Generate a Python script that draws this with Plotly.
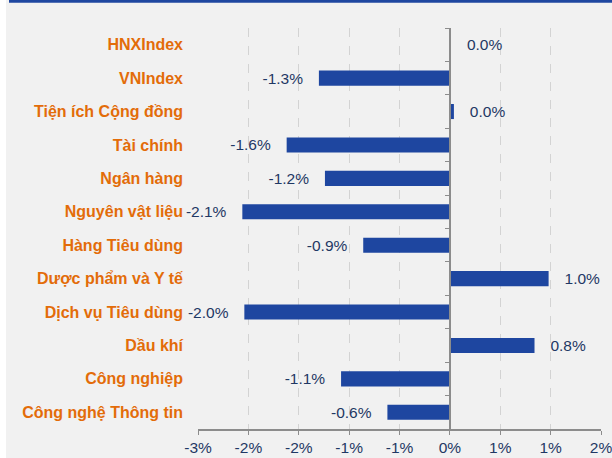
import plotly.graph_objects as go

categories = [
    "HNXIndex", "VNIndex", "Tiện ích Cộng đồng", "Tài chính", "Ngân hàng",
    "Nguyên vật liệu", "Hàng Tiêu dùng", "Dược phẩm và Y tế",
    "Dịch vụ Tiêu dùng", "Dầu khí", "Công nghiệp", "Công nghệ Thông tin",
]
values = [0.01, -1.30, 0.04, -1.62, -1.24, -2.06, -0.86, 0.98, -2.04, 0.84, -1.08, -0.62]

tick_vals = [-2.5, -2.0, -1.5, -1.0, -0.5, 0.0, 0.5, 1.0, 1.5]
tick_text = ["-3%", "-2%", "-2%", "-1%", "-1%", "0%", "1%", "1%", "2%"]

BAR = "#1E46A0"
NAVY = "#1F3864"
ORANGE = "#E36C09"
GRAY = "#8C8C8C"
FONT = "Liberation Sans, Arial, sans-serif"

pad = "\u00a0\u00a0\u00a0"
labels = [(f"{v:.1f}%" + pad) if v < 0 else (pad + f"{v:.1f}%") for v in values]

fig = go.Figure()
fig.add_trace(go.Bar(
    x=values, y=categories, orientation="h",
    marker=dict(color=BAR, line=dict(width=0)),
    text=labels, textposition="outside", cliponaxis=False,
    constraintext="none",
    textfont=dict(family=FONT, size=15.5, color=NAVY),
    hoverinfo="skip",
))

x0, x1 = tick_vals[0], tick_vals[-1]
zero_pos = (0 - x0) / (x1 - x0)
n = len(categories)
L, R, T, B = 198, 11, 28, 29
pw = 612 - L - R
ph = 458 - T - B

fig.update_layout(
    width=612, height=458,
    margin=dict(l=L, r=R, t=T, b=B, autoexpand=False),
    paper_bgcolor="#F1F1F1", plot_bgcolor="#F1F1F1",
    showlegend=False, bargap=0.55,
    font=dict(family=FONT),
    xaxis=dict(
        range=[x0, x1], tickvals=tick_vals, ticktext=tick_text,
        showgrid=True, gridcolor="#D3D3D3", griddash="dash", gridwidth=1,
        zeroline=False, showline=True, linecolor=GRAY, linewidth=1.5,
        ticks="outside", ticklen=4, tickcolor=GRAY,
        tickfont=dict(family=FONT, size=15.5, color=NAVY),
        ticklabeloverflow="allow",
        automargin=False, fixedrange=True,
    ),
    yaxis=dict(
        type="category", categoryorder="array", categoryarray=categories,
        range=[n - 0.5, -0.5], showgrid=False, zeroline=False, showline=False,
        ticks="", ticklabelstandoff=14, automargin=False,
        tickfont=dict(family=FONT, size=16, color=ORANGE, weight="bold"),
    ),
    yaxis2=dict(
        matches="y", overlaying="y", anchor="free", position=zero_pos,
        type="category", showgrid=False, zeroline=False,
        showline=True, linecolor=GRAY, linewidth=1.5,
        ticks="outside", ticklen=4, tickcolor=GRAY, tickson="boundaries",
        showticklabels=False, automargin=False,
    ),
    shapes=[
        dict(type="rect", xref="paper", yref="paper",
             x0=-L / pw, x1=(-L + 6) / pw, y0=-1, y1=2,
             fillcolor="white", line=dict(width=0), layer="below"),
        dict(type="rect", xref="paper", yref="paper",
             x0=(-L + 9) / pw, x1=1 + R / pw, y0=1 + (T - 2.7) / ph, y1=1 + T / ph,
             fillcolor="#1F47A0", line=dict(width=0)),
    ],
)

# invisible helper so the free zero-axis shares the category positions
fig.add_trace(go.Scatter(x=[0] * n, y=categories, yaxis="y2",
                         mode="none", hoverinfo="skip"))

fig.write_html("out.html", config={"displayModeBar": False},
               post_script="document.body.style.margin='0';")
